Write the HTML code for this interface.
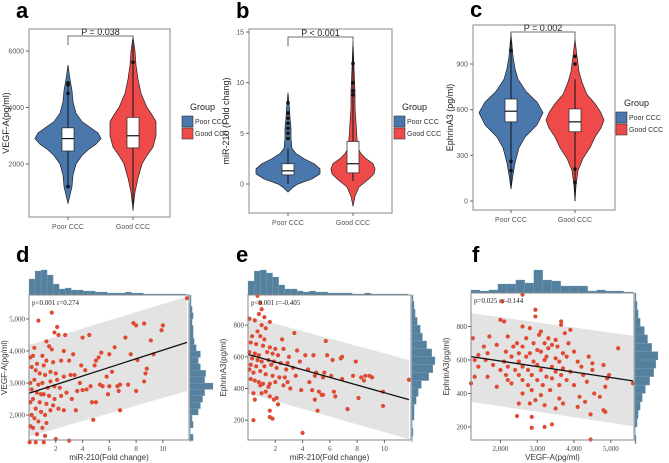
<!DOCTYPE html>
<html><head><meta charset="utf-8">
<style>
html,body{margin:0;padding:0;background:#fff;}
svg{display:block;font-family:"Liberation Sans",sans-serif;}
.tk{font-size:7px;fill:#555;}
.tks{font-size:7px;fill:#444;font-family:"Liberation Serif",serif;}
</style></head>
<body>
<svg id="fig" width="669" height="463" viewBox="0 0 669 463"></svg>
<script>
// ===== violin data (value, half-width density) =====
const vioACats = ["Poor CCC","Good CCC"];
const vioAPoorDens = [[600,0],[900,2],[1200,4],[1600,5],[2000,8],[2300,14],[2500,20],[2700,28],[2900,33],[3100,30],[3300,22],[3500,14],[3800,8],[4200,5],[4600,4],[5000,2],[5500,0]];
const vioAGoodDens = [[350,0],[700,1],[1000,2],[1500,5],[2000,9],[2300,14],[2600,20],[3000,23],[3500,23],[3800,18],[4000,14],[4500,8],[5000,5],[5500,3],[6000,2],[6500,0]];
const vioAPoorBox = [1200,2460,2900,3280,4900];
const vioAGoodBox = [600,2570,3000,3650,6400];
const vioAPoorOut = [1200,4500,4800,4870];
const vioAGoodOut = [5600];
const vioATicks = [2000,4000,6000];

const vioBPoorDens = [[-0.8,0],[-0.4,4],[0,10],[0.5,24],[1,32],[1.5,32],[2,26],[2.5,16],[3,8],[3.5,4],[4.5,3],[5.5,3],[6.5,2],[7.5,1.5],[9,0]];
const vioBGoodDens = [[-2.2,0],[-1.2,2],[-0.3,6],[0.5,16],[1,21],[1.5,22],[2,20],[2.5,13],[3,8],[3.5,5],[4.5,4],[6,3],[7.5,2],[9,2],[11,1.2],[14,0]];
const vioBPoorBox = [0,0.9,1.3,2.0,3.5];
const vioBGoodBox = [0.3,1.1,2.0,4.2,13.8];
const vioBPoorOut = [4.5,5,5.5,6,6.5,7,8];
const vioBGoodOut = [8.8,9.2,10,11.9];
const vioBTicks = [0,5,10,15];

const vioCPoorDens = [[80,0],[150,1.5],[250,4],[350,8],[420,14],[500,26],[580,32],[650,26],[720,15],[800,7],[870,4],[950,2],[1100,0]];
const vioCGoodDens = [[0,0],[100,1],[200,3],[280,8],[350,15],[420,20],[480,26],[530,29],[580,26],[640,20],[700,12],[780,7],[850,4],[950,2],[1060,0]];
const vioCPoorBox = [80,520,590,670,1100];
const vioCGoodBox = [0,455,520,605,800];
const vioCPoorOut = [200,260,990];
const vioCGoodOut = [120,210,900,950];
const vioCTicks = [0,300,600,900];

// ===== scatter data =====
const dX = [11.8,1.7,0.7,1.9,2.2,2.7,4.5,4,7.2,1.3,2.1,7.8,8,8.6,10,9.9,9.1,0.4,1.5,1.7,2.6,5.4,6.4,3.3,5.2,6,5,7.6,8.1,9.3,0.1,0.3,1,1.3,1.8,2.4,3,3.9,4.9,5.8,6.2,4.2,8.8,8.7,8.6,0.2,0.5,0.8,1.2,1.6,2,2.6,3.1,3.4,3.8,4.3,4.6,5.3,5.5,6,6.6,6.8,7.4,8,5.9,6.7,0.1,0.4,0.7,1,1.4,1.9,2.3,2.8,3.6,4,0.2,0.6,1.1,1.5,1.9,2.4,3.2,0.3,0.8,1.3,1.8,2.2,2.6,3.5,4.7,5,4.8,6.8,0.1,0.5,0.9,1.2,1.6,0.2,0.4,0.7,1.3,0.1,0.3,1,0.6,1.2,2,3,0.05,0.5,1.1,0.9,1.6,2.1,1.1,0.6];
const dY = [5650,5200,4950,4580,4500,4500,4500,4420,4420,4300,4750,4870,4800,4860,4800,4650,4330,4100,4150,4050,4000,3950,4120,3900,3800,3900,3700,3900,3720,3900,3800,3850,3850,3700,3650,3700,3700,3550,3550,3200,3350,3400,3450,3300,3050,3500,3400,3300,3250,3350,3300,3200,3250,3250,3000,2800,2900,2950,2900,2900,2900,2950,2950,2750,2650,2750,3000,3100,2950,3000,2850,2900,2850,2700,2750,2780,2800,2700,2650,2600,2500,2600,2500,2500,2400,2350,2300,2200,2150,2150,2400,2400,1850,2150,2400,2200,2100,2000,2150,2000,1900,1800,1750,1650,1600,1600,1400,1350,1250,1200,1150,1150,1150,2650,3050,3100,3550,3600];
const dFit = [[0,2680],[11.8,4270]];
const dBandHi = [[0,4190],[11.8,5700]];
const dBandLo = [[0,1330],[11.8,2750]];
const dTopCounts = [16,24,25,20,11,6,7,5,5,4,4,3,3,2,2,2,3,2,2,1,1,1,1,1,1,1];
const dRightCounts = [3,0,3,2,8,10,12,14,22,14,15,10,8,10,6,4,3,3,2,3,2,1,1];
const dXTicks = [2,4,6,8,10];
const dYTicks = [2000,3000,4000,5000];

const eX = [0.7,0.9,1,0.8,0.1,0.5,1.2,1.6,1,1.3,0.7,3.4,0.3,0.9,1.2,2.5,5.7,0.2,0.6,1.1,1.6,2,2.6,3.6,0.1,0.5,0.8,1.4,1.8,2.2,3,4.2,4.8,5.8,6.2,6.9,6.8,7.9,0.3,0.7,1,1.5,1.9,2.4,2.9,3.8,0.2,0.6,1.2,1.7,2.1,2.8,3.3,4.4,5,5.6,0.1,0.4,0.9,1.3,1.8,2.3,2.7,3.5,4.9,5.5,6.1,6.9,7.7,8.3,8.6,8.9,9.1,8.5,0.2,0.5,0.8,1.1,1.6,2,2.6,3.1,3.9,4.5,4.7,5.2,5.4,6.3,6.4,7.3,8.1,9.9,9.9,11.8,0.4,1,1.3,1.6,2.1,0.5,1.9,2.2,5.1,4.9,5.5,0.4,1.6,1.8,1.6,4,0.9,1.5,2.9];
const eY = [985,940,900,870,840,830,850,820,800,780,760,750,730,730,710,710,700,690,680,670,660,650,650,640,630,620,610,630,620,610,600,610,610,610,580,600,590,570,590,580,570,580,570,560,560,570,550,540,540,550,530,520,530,520,500,500,520,500,510,490,480,470,470,480,480,470,480,460,480,470,480,480,470,450,460,450,440,430,430,440,420,400,390,440,390,380,360,380,350,270,340,380,290,455,370,370,380,350,340,330,330,300,260,330,360,200,220,210,260,120,420,410,440];
const eFit = [[0,615],[11.8,330]];
const eBandHi = [[0,855],[11.8,580]];
const eBandLo = [[0,370],[11.8,80]];
const eTopCounts = [14,24,25,22,18,10,6,6,4,3,4,3,3,2,2,2,2,1,1,2,1,1,1,1,1,1];
const eRightCounts = [1,0,2,2,4,6,9,16,20,22,19,14,10,8,5,3,2,1];
const eXTicks = [2,4,6,8,10];
const eYTicks = [200,400,600,800];

const fX = [2600,2050,2950,2950,2000,2100,3650,3650,2600,2800,3100,3900,3050,1250,1700,2200,2700,3300,3500,3750,2450,2900,3200,3400,3850,1900,2350,2600,3000,3300,3550,5200,1550,2150,2500,2800,3100,3700,4000,1400,1650,2300,2700,3250,3500,3800,4400,1300,1600,2100,2500,2900,3200,3600,4100,4500,1400,1800,2200,2600,3000,3400,3700,4200,4800,2000,2400,2750,3100,3500,3900,4500,1300,1650,2150,2500,2850,3250,3650,4250,4950,2200,2600,3000,3400,3800,4350,4900,1200,1900,2300,2750,3150,3600,4000,4850,2850,3350,4550,4700,2600,3100,4150,3600,2950,2500,2800,3200,3700,4300,4100,3500,4800,4850,2450,2850,4450,2850,3200,3400,4450,5600];
const fY = [990,950,900,860,840,830,830,810,800,790,770,780,750,730,740,740,730,730,720,760,700,700,700,690,700,690,680,680,660,670,680,670,680,650,640,640,650,640,650,630,640,620,620,620,610,620,620,600,600,590,590,590,600,590,590,580,560,570,560,560,570,560,550,560,570,540,540,540,540,530,530,540,500,500,510,510,510,500,510,510,510,480,480,480,490,480,470,490,460,440,460,450,450,450,450,440,420,420,400,380,400,390,380,370,360,340,340,330,340,350,320,310,300,290,265,260,275,195,200,215,125,460];
const fFit = [[1200,620],[5600,475]];
const fBandHi = [[1200,880],[5600,745]];
const fBandLo = [[1200,350],[5600,205]];
const fTopCounts = [3,2,3,9,9,13,10,23,13,12,7,7,7,2,3,2,2,1];
const fRightCounts = [1,0,2,3,5,7,10,14,18,20,22,16,12,9,5,3,2,1];
const fXTicks = [2000,3000,4000,5000];
const fYTicks = [200,400,600,800];

// ===== helpers =====
const NS="http://www.w3.org/2000/svg";
const svg=document.getElementById('fig');
function mk(tag,attrs,parent,text){const e=document.createElementNS(NS,tag);for(const k in attrs)e.setAttribute(k,attrs[k]);if(text!==undefined)e.textContent=text;(parent||svg).appendChild(e);return e;}
function lin(d0,d1,r0,r1){return v=>r0+(v-d0)/(d1-d0)*(r1-r0);}
const BLUE="#4a78ad", RED="#ef4a4a", DOT="#e04a33", HIST="#55819f";

function label(t,x,y){const e=mk('text',{x:x,y:y,'font-size':22,'font-weight':'bold',fill:'#000'},svg,t);

}

function violinPanel(id,box,dom,ticks,cats,xs,sets,yTitle,pText,pY,legX,legY){
  const g=mk('g',{});
  
  
  const y=lin(dom[0],dom[1],box.y1,box.y0);
  mk('rect',{x:box.x0,y:box.y0,width:box.x1-box.x0,height:box.y1-box.y0,fill:'#fff',stroke:'#888','stroke-width':1},g);
  ticks.forEach(t=>{const yy=y(t);mk('line',{x1:box.x0-3,x2:box.x0,y1:yy,y2:yy,stroke:'#666'},g);
    const tx=mk('text',{x:box.x0-5,y:yy+2.5,'text-anchor':'end',class:'tk'},g,String(t));
    
    });
  cats.forEach((c,i)=>{mk('line',{x1:xs[i],x2:xs[i],y1:box.y1,y2:box.y1+3,stroke:'#666'},g);
    const tx=mk('text',{x:xs[i],y:box.y1+12,'text-anchor':'middle',class:'tk'},g,c);
    
    });
  const yt=mk('text',{transform:`translate(${box.x0-20},${(box.y0+box.y1)/2}) rotate(-90)`,'text-anchor':'middle','font-size':9,fill:'#222'},g,yTitle);
  
  
  sets.forEach((s,i)=>{
    const cx=xs[i];
    let pts=s.dens.map(p=>[cx+p[1],y(p[0])]);
    let back=s.dens.slice().reverse().map(p=>[cx-p[1],y(p[0])]);
    const all=pts.concat(back);
    const v=mk('path',{d:'M'+all.map(p=>p[0].toFixed(1)+','+p[1].toFixed(1)).join('L')+'Z',fill:s.color,stroke:'#222','stroke-width':0.7,'stroke-linejoin':'round'},g);
    
    
    const b=s.box;
    mk('line',{x1:cx,x2:cx,y1:y(b[0]),y2:y(b[4]),stroke:'#111','stroke-width':1},g);
    const r=mk('rect',{x:cx-6,y:y(b[3]),width:12,height:y(b[1])-y(b[3]),fill:'#fff',stroke:'#222','stroke-width':0.7},g);
    
    
    mk('line',{x1:cx-6,x2:cx+6,y1:y(b[2]),y2:y(b[2]),stroke:'#111','stroke-width':1.2},g);
    s.out.forEach(o=>{const c=mk('circle',{cx:cx,cy:y(o),r:1.8,fill:'#111'},g);
      
      });
  });
  // p bracket
  mk('path',{d:`M${xs[0]},${pY+9}V${pY}H${xs[1]}V${pY+9}`,fill:'none',stroke:'#444','stroke-width':0.8},g);
  const pt=mk('text',{x:(xs[0]+xs[1])/2,y:pY-1,'text-anchor':'middle','font-size':9,fill:'#222'},g,pText);
  
  
  // legend
  const lg=mk('g',{},g);
  
  
  mk('text',{x:legX+8,y:legY,'font-size':9,fill:'#222'},lg,'Group');
  [['Poor CCC',BLUE],['Good CCC',RED]].forEach((l,i)=>{
    const e=mk('g',{},lg);
    
    
    mk('rect',{x:legX,y:legY+6+i*12,width:11,height:11,fill:l[1],stroke:'#333','stroke-width':0.6},e);
    mk('text',{x:legX+13,y:legY+14+i*12,'font-size':7,fill:'#333'},e,l[0]);
  });
}

function scatterPanel(id,box,xd,yd,X,Y,fit,hi,lo,xT,yT,fmt,topC,topStart,topW,rightC,rightStart,rightW,topMax,rightMax,xTitle,yTitle,stat){
  const g=mk('g',{});
  
  
  const x=lin(xd[0],xd[1],box.x0,box.x1), y=lin(yd[0],yd[1],box.y1,box.y0);
  // top hist
  const th=mk('g',{},g);
  
  
  const cmaxT=Math.max(...topC);
  topC.forEach((c,i)=>{const x0=x(topStart+i*topW),x1=x(topStart+(i+1)*topW);const h=c/cmaxT*topMax;
    const r=mk('rect',{x:x0,y:box.y0-h,width:Math.max(0,Math.min(x1,box.x1)-x0),height:h,fill:HIST,stroke:'#7fa3bb','stroke-width':0.3},th);
    
    });
  const rh=mk('g',{},g);
  
  
  const cmaxR=Math.max(...rightC);
  mk('rect',{x:box.x1,y:box.y0+8,width:2,height:box.y1-box.y0-6,fill:'#b9d2e2'},rh);
  rightC.forEach((c,i)=>{const y0=y(rightStart+i*rightW),y1=y(rightStart+(i+1)*rightW);const w=c/cmaxR*rightMax;
    const r=mk('rect',{x:box.x1+1,y:Math.max(y1,box.y0),width:w,height:Math.max(0,y0-Math.max(y1,box.y0)),fill:HIST,stroke:'#7fa3bb','stroke-width':0.3},rh);
    
    });
  mk('rect',{x:box.x0,y:box.y0,width:box.x1-box.x0,height:box.y1-box.y0,fill:'#fff'},g);
  const clipId='clip'+id;
  const cp=mk('clipPath',{id:clipId},g);mk('rect',{x:box.x0,y:box.y0,width:box.x1-box.x0,height:box.y1-box.y0},cp);
  const band=mk('path',{d:`M${x(hi[0][0])},${y(hi[0][1])}L${x(hi[1][0])},${y(hi[1][1])}L${x(lo[1][0])},${y(lo[1][1])}L${x(lo[0][0])},${y(lo[0][1])}Z`,fill:'#e3e3e3','clip-path':`url(#${clipId})`},g);
  
  
  X.forEach((v,i)=>{const c=mk('circle',{cx:x(v),cy:y(Y[i]),r:2.1,fill:DOT},g);
    
    });
  const fl=mk('line',{x1:x(fit[0][0]),y1:y(fit[0][1]),x2:x(fit[1][0]),y2:y(fit[1][1]),stroke:'#111','stroke-width':1.3},g);
  
  
  mk('rect',{x:box.x0,y:box.y0,width:box.x1-box.x0,height:box.y1-box.y0,fill:'none',stroke:'#888','stroke-width':1},g);
  xT.forEach(t=>{const xx=x(t);mk('line',{x1:xx,x2:xx,y1:box.y1,y2:box.y1+3,stroke:'#666'},g);
    const tx=mk('text',{x:xx,y:box.y1+11,'text-anchor':'middle',class:'tks'},g,fmt(t));
    
    });
  yT.forEach(t=>{const yy=y(t);mk('line',{x1:box.x0-3,x2:box.x0,y1:yy,y2:yy,stroke:'#666'},g);
    const tx=mk('text',{x:box.x0-4,y:yy+2.5,'text-anchor':'end',class:'tks'},g,fmt(t));
    
    });
  const xt=mk('text',{x:(box.x0+box.x1)/2,y:box.y1+20,'text-anchor':'middle','font-size':8,fill:'#333'},g,xTitle);
  
  
  const yt=mk('text',{transform:`translate(${box.x0-22},${(box.y0+box.y1)/2}) rotate(-90)`,'text-anchor':'middle','font-size':8,fill:'#333'},g,yTitle);
  
  
  const st=mk('text',{x:box.x0+3,y:box.y0+10,'font-size':7,fill:'#222','font-family':'Liberation Serif,serif'},g,stat);
  
  
}

const comma=v=>v>=1000?v.toLocaleString('en-US'):String(v);

label('a',16,18);label('b',236,18);label('c',470,17);
label('d',16,262);label('e',236,262);label('f',472,262);

violinPanel('a',{x0:29,x1:170,y0:29,y1:217},[-2000/1000*0+ (2000-(217-164)/28.25*1000),2000+(164-29)/28.25*1000],vioATicks,vioACats,[68,133],
 [{name:'poor',color:BLUE,dens:vioAPoorDens,box:vioAPoorBox,out:vioAPoorOut},{name:'good',color:RED,dens:vioAGoodDens,box:vioAGoodBox,out:vioAGoodOut}],
 'VEGF-A(pg/ml)','P = 0.038',36,182,110);
violinPanel('b',{x0:249,x1:392,y0:29,y1:213},[-(213-184)/10.13,(184-29)/10.13],vioBTicks,vioACats,[288,353],
 [{name:'poor',color:BLUE,dens:vioBPoorDens,box:vioBPoorBox,out:vioBPoorOut},{name:'good',color:RED,dens:vioBGoodDens,box:vioBGoodBox,out:vioBGoodOut}],
 'miR-210 (Fold chang)','P < 0.001',37,394,110);
violinPanel('c',{x0:473,x1:615,y0:25,y1:210},[-(210-201)/0.1522,(201-25)/0.1522],vioCTicks,vioACats,[511,575],
 [{name:'poor',color:BLUE,dens:vioCPoorDens,box:vioCPoorBox,out:vioCPoorOut},{name:'good',color:RED,dens:vioCGoodDens,box:vioCGoodBox,out:vioCGoodOut}],
 'EphrinA3 (pg/ml)','P = 0.002',32,616,106);

scatterPanel('d',{x0:29,x1:189,y0:295,y1:440},[0,11.95],[1220,5750],dX,dY,dFit,dBandHi,dBandLo,dXTicks,dYTicks,comma,
 dTopCounts,0,0.45,dRightCounts,1200,200,25,23,'miR-210(Fold change)','VEGF-A(pg/ml)','p<0.001 r=0.274');
scatterPanel('e',{x0:248,x1:411,y0:295,y1:440},[0,11.95],[75,990],eX,eY,eFit,eBandHi,eBandLo,eXTicks,eYTicks,comma,
 eTopCounts,0,0.45,eRightCounts,100,50,25,23,'miR-210(Fold change)','EphrinA3(pg/ml)','p<0.001 r=-0.405');
scatterPanel('f',{x0:471,x1:634,y0:293,y1:440},[1200,5630],[122,1000],fX,fY,fFit,fBandHi,fBandLo,fXTicks,fYTicks,comma,
 fTopCounts,1200,244,fRightCounts,100,50,23,23,'VEGF-A(pg/ml)','EphrinA3(pg/ml)','p=0.025 r=-0.144');
</script>
</body></html>
